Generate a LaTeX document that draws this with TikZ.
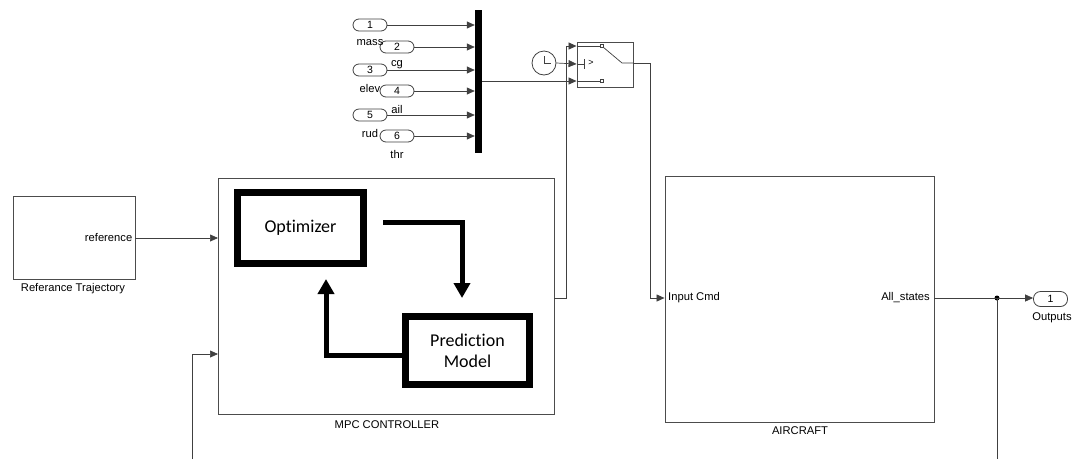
\documentclass[tikz,border=0pt]{standalone}
\usepackage{fontspec}
\setmainfont{Liberation Sans}
\newfontfamily\calib[Ligatures=NoCommon]{Carlito}
\usetikzlibrary{arrows.meta,shadows}
\begin{document}
\begin{tikzpicture}[x=1pt,y=-1pt,
  blk/.style={draw=black!70,line width=0.9pt,fill=white,inner sep=0pt,
    drop shadow={shadow xshift=1pt,shadow yshift=-1pt,opacity=0.35}},
  port/.style={draw=black!75,line width=0.8pt,rounded corners=6pt,minimum width=34pt,minimum height=12pt,inner sep=0pt,font=\fontsize{10.5}{11}\selectfont,fill=white},
  lbl/.style={font=\fontsize{11.2}{13}\selectfont,inner sep=0pt},
  sig/.style={draw=black!75,line width=0.7pt,-{Triangle[length=8pt,width=7pt]}},
  wire/.style={draw=black!75,line width=0.7pt},
  thickbox/.style={draw=black,line width=7pt,inner sep=0pt,font=\calib\fontsize{18}{22}\selectfont,align=center},
  thickarr/.style={draw=black,line width=5pt,-{Triangle[length=15pt,width=16pt]}}
]
\useasboundingbox (0,0) rectangle (1074,459);

% inports
\node[port] (in1) at (370,25) {1};
\node[port] (in2) at (397,47) {2};
\node[port] (in3) at (370,70) {3};
\node[port] (in4) at (397,91) {4};
\node[port] (in5) at (370,115) {5};
\node[port] (in6) at (397,136) {6};
\node[lbl] (l1) at (370,43) {mass};
\node[lbl] (l2) at (397,65) {cg};
\node[lbl] (l3) at (370,88) {elev};
\node[lbl] (l4) at (397,109) {ail};
\node[lbl] (l5) at (370,133) {rud};
\node[lbl] (l6) at (397,154) {thr};

% mux
\node[fill=black,minimum width=7pt,minimum height=143pt,inner sep=0pt] (mux) at (478.5,81.5) {};
\foreach \i in {1,...,6}{
  \draw[sig] (in\i.east) -- (in\i.east -| mux.west);
}

% clock
\node[draw=black!75,line width=0.8pt,circle,minimum size=24pt,inner sep=0pt,fill=white] (clk) at (544,63) {};
\draw[black!75,line width=0.8pt] ([yshift=7pt]clk.center) -- (clk.center) -- ([xshift=7pt]clk.center);

% switch
\node[blk,minimum width=56pt,minimum height=45pt] (sw) at (605,64.5) {};
\coordinate (s1) at (577,46);
\coordinate (s2) at (577,64);
\coordinate (s3) at (577,81);
\draw[black!75,line width=0.7pt] (s1) -- (600,46);
\draw[black!75,line width=0.7pt] (s3) -- (600,81);
\draw[black!75,line width=0.6pt,fill=white] (600,44.5) rectangle (603,47.5);
\draw[black!75,line width=0.6pt,fill=white] (600,79.5) rectangle (603,82.5);
\draw[black!75,line width=0.7pt] (s2) -- (584,64);
\draw[black!75,line width=0.8pt] (584,59) -- (584,69);
\node[inner sep=0pt,font=\fontsize{9}{10}\selectfont] (gt) at (591,63) {>};
\draw[black!75,line width=0.7pt] (603,47) -- (622,63) -- (633,63);
\coordinate (swout) at (633,63);

% Reference trajectory
\node[blk,minimum width=122pt,minimum height=83pt] (ref) at (74,237.5) {};
\node[lbl,anchor=east] (refp) at ([xshift=-3pt,yshift=0.5pt]ref.east) {reference};
\node[lbl] (refl) at (73,289) {Referance Trajectory};

% MPC controller
\node[blk,minimum width=336pt,minimum height=236pt] (mpc) at (386,296) {};
\node[lbl] (mpcl) at (387,425) {MPC CONTROLLER};
\node[thickbox,minimum width=126pt,minimum height=71pt] (opt) at (300.5,228) {Optimizer};
\node[thickbox,minimum width=124pt,minimum height=68pt] (pred) at (467.5,350.5) {Prediction\\[-1pt]Model};
\coordinate (oa) at (383,222);
\coordinate (ob) at (462,222);
\coordinate (pb) at (326,355);
\draw[thickarr] (oa) -- (ob) -- (462,298);
\draw[thickarr] (pred.west |- pb) -- (pb) -- (326,279);

% aircraft
\node[blk,minimum width=269pt,minimum height=246pt] (ac) at (799.5,299) {};
\node[lbl,anchor=west] (acin) at (668,298) {Input Cmd};
\node[lbl,anchor=east] (acout) at (930,298) {All\_states};
\node[lbl] (acl) at (800,431) {AIRCRAFT};

% output
\node[port,minimum height=15pt,rounded corners=7pt] (out1) at (1050.5,299) {1};
\node[lbl] (outl) at (1052,318) {Outputs};
\coordinate (dot) at (997,298);
\fill[black] (dot) circle (2.5pt);

% wiring
\draw[sig] (ref.east |- 0,238) -- (218,238);
\coordinate (fb) at (192,459);
\draw[sig] (fb) -- (192,354) -- (218,354);
\draw[sig] (mux.east |- s3) -- (s3 -| sw.west);
\draw[sig] (clk.east) -- (s2 -| sw.west);
\draw[sig] (mpc.east |- 0,298) -- (566,298) -- (566,46) -- (s1 -| sw.west);
\draw[sig] (swout) -- (650,63) -- (650,298) -- (ac.west |- 0,298);
\draw[sig] (ac.east |- 0,298) -- (out1.west |- 0,298);
\draw[wire] (dot) -- (997,459);
\end{tikzpicture}
\end{document}
